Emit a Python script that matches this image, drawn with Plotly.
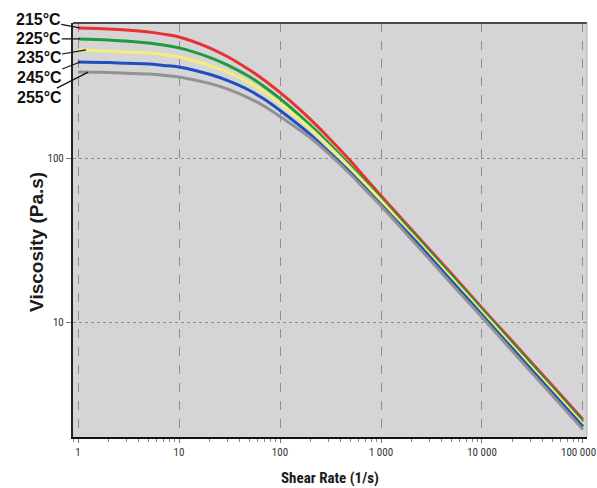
import math
import plotly.graph_objects as go

shear_rate = [1, 2, 3, 5, 7, 10, 20, 30, 50, 70, 100, 150, 200, 300, 500, 700,
              1000, 2000, 5000, 10000, 20000, 50000, 100000]

visc_215 = [621, 612, 603, 586, 569, 547, 470, 416, 344, 298, 251, 203, 172, 134, 95.9, 75.5,
            58.9, 36.7, 19.7, 12.2, 7.64, 4.09, 2.55]
visc_225 = [532, 525, 516, 502, 488, 469, 411, 370, 313, 272, 230, 186, 158, 124, 89.5, 71.8,
            56.5, 35.6, 19.1, 11.9, 7.40, 3.96, 2.47]
visc_235 = [456, 449, 443, 437, 427, 413, 367, 335, 287, 253, 215, 176, 151, 119, 86.7, 69.7,
            55.1, 34.4, 18.5, 11.5, 7.16, 3.84, 2.39]
visc_245 = [385, 382, 378, 374, 367, 359, 324, 297, 258, 228, 195, 161, 139, 110, 81.3, 65.6,
            52.0, 33.2, 17.8, 11.1, 6.90, 3.70, 2.31]
visc_255 = [334, 332, 329, 325, 320, 312, 285, 264, 231, 207, 179, 151, 133, 107, 79.4, 64.0,
            51.1, 32.0, 17.1, 10.7, 6.65, 3.56, 2.22]

series_names = ["215°C", "225°C", "235°C", "245°C", "255°C"]
series_values = [visc_215, visc_225, visc_235, visc_245, visc_255]
series_colors = ["#e8322f", "#1f9a3e", "#f3ee79", "#1f4fbf", "#929292"]

x_tick_vals = [1, 10, 100, 1000, 10000, 100000]
x_tick_text = ["1", "10", "100", "1 000", "10 000", "100 000"]
y_tick_vals = [10, 100]
y_tick_text = ["10", "100"]

NARROW = "Liberation Sans Narrow, Arial Narrow, Roboto Condensed, Liberation Sans, sans-serif"
BOLD = "Liberation Sans, Arial, sans-serif"
TICKFONT = dict(family=NARROW, size=11, color="#333")

fig = go.Figure()
for name, vals, col in zip(series_names, series_values, series_colors):
    fig.add_trace(go.Scatter(x=shear_rate, y=vals, mode="lines", name=name,
                             line=dict(color=col, width=3, shape="spline", smoothing=1.0)))

# label leader lines: tip shear rate, pixel offsets of the label centre
label_tips = [(1.03, -41, -8), (1.04, -41, 0), (1.20, -47, 8), (1.05, -41, 16), (1.26, -49, 25)]
annotations = []
for name, vals, (tx, ax, ay) in zip(series_names, series_values, label_tips):
    annotations.append(dict(
        x=math.log10(tx), y=math.log10(vals[0]), xref="x", yref="y",
        ax=ax, ay=ay, axref="pixel", ayref="pixel",
        text="<b>" + name + "</b>", showarrow=True, arrowhead=0, arrowwidth=1.2,
        arrowcolor="#111", font=dict(family=BOLD, size=16, color="#111"),
        xanchor="center", yanchor="middle", standoff=0, startstandoff=0,
        borderpad=0,
    ))

# last x tick label placed right-aligned so it stays inside the page edge
annotations.append(dict(
    x=math.log10(x_tick_vals[-1]), y=0, xref="x", yref="paper",
    xanchor="right", yanchor="top", xshift=14, yshift=-8, borderpad=0,
    text=x_tick_text[-1], showarrow=False, font=TICKFONT,
))

annotations.append(dict(
    x=0.5, y=0, xref="paper", yref="paper", yanchor="top", xanchor="center", yshift=-30,
    text="<b>Shear Rate (1/s)</b>", showarrow=False,
    font=dict(family=NARROW, size=15, color="#1a1a1a"),
))
annotations.append(dict(
    x=0, y=0.47, xref="paper", yref="paper", xanchor="right", yanchor="middle", xshift=-24,
    text="<b>Viscosity (Pa.s)</b>", textangle=-90, showarrow=False,
    font=dict(family=BOLD, size=19, color="#1a1a1a"),
))

fig.update_layout(
    width=597, height=488,
    margin=dict(l=73, r=10, t=23, b=51, autoexpand=False),
    paper_bgcolor="white", plot_bgcolor="#d5d5d8",
    showlegend=False,
    annotations=annotations,
    shapes=[
        dict(type="line", xref="paper", yref="paper", x0=0, x1=1, y0=1, y1=1,
             line=dict(color="#4a4a4a", width=2)),
        dict(type="line", xref="paper", yref="paper", x0=1, x1=1, y0=0, y1=1,
             line=dict(color="#b0b0b0", width=1)),
    ],
)
fig.update_xaxes(
    type="log", range=[-0.05, 5.04], automargin=False,
    tickvals=x_tick_vals, ticktext=x_tick_text[:-1] + [""],
    ticks="outside", ticklen=4, tickcolor="#777", tickwidth=1,
    minor=dict(ticks="outside", ticklen=3, tickcolor="#888", dtick="D1", showgrid=False),
    tickfont=TICKFONT,
    showgrid=True, gridcolor="#8e8e8e", gridwidth=1, griddash="dash",
    showline=True, linecolor="#111", linewidth=2, zeroline=False,
)
fig.update_yaxes(
    type="log", range=[0.30, 2.823], automargin=False,
    tickvals=y_tick_vals, ticktext=y_tick_text,
    ticks="outside", ticklen=5, tickcolor="#777", tickwidth=1,
    tickfont=TICKFONT,
    showgrid=True, gridcolor="#8e8e8e", gridwidth=1, griddash="dot",
    showline=True, linecolor="#222", linewidth=2, zeroline=False,
)

fig.write_html("out.html", config={"displayModeBar": False},
               post_script="document.body.style.margin='0';")
